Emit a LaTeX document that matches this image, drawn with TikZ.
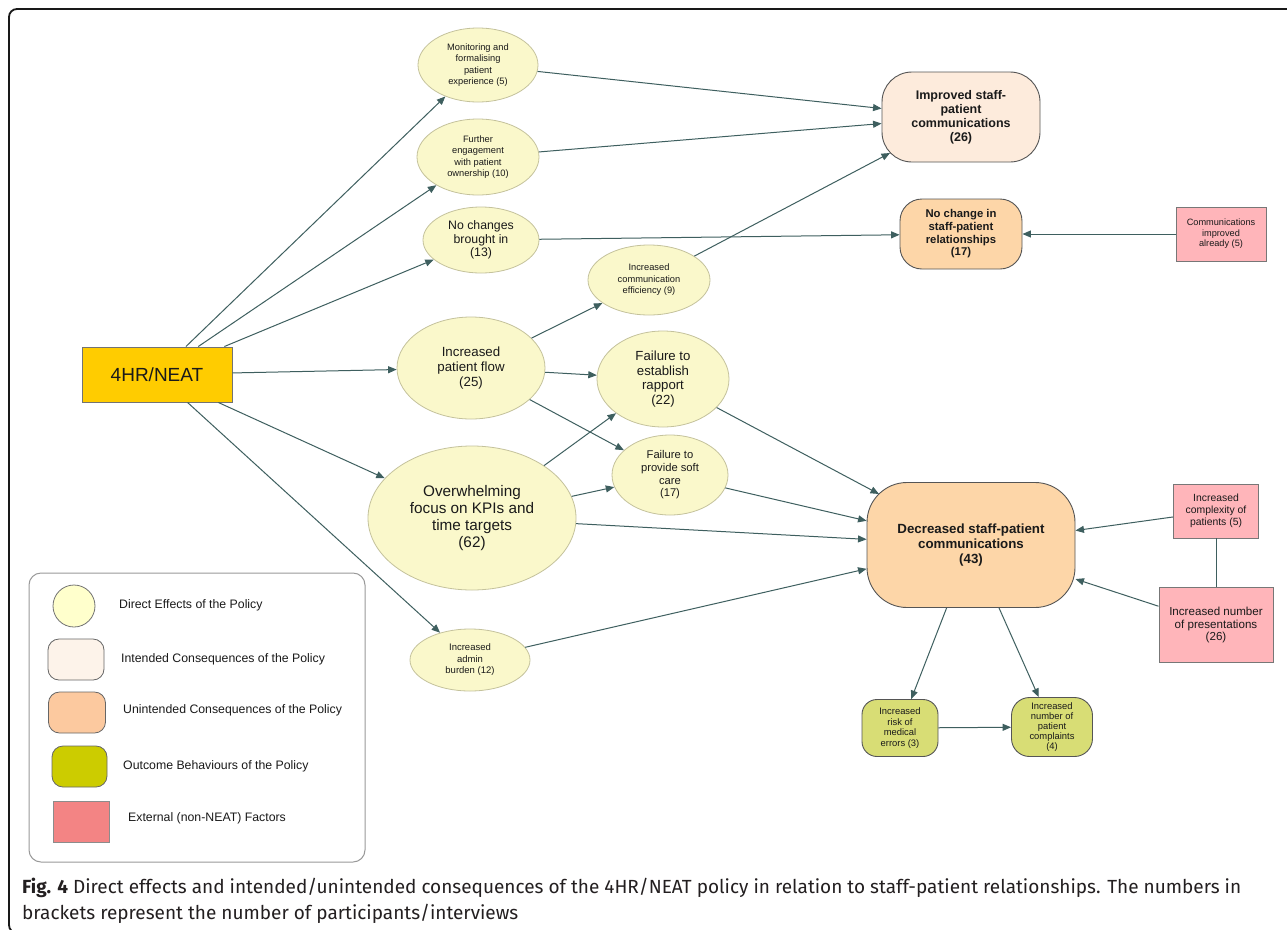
\documentclass[tikz,border=0pt]{standalone}
\usepackage{fontspec}
\setmainfont{Liberation Sans}
\newfontfamily\capfont[FakeStretch=1.0]{Fira Sans}
\usetikzlibrary{shapes.geometric,arrows.meta}
\definecolor{edgec}{HTML}{3E5F5F}
\definecolor{txt}{HTML}{1A1A1A}
\definecolor{efff}{HTML}{FAF8CB}
\definecolor{effb}{HTML}{C4C29C}
\definecolor{impf}{HTML}{FDEBDC}
\definecolor{unf}{HTML}{FDD6A8}
\definecolor{extf}{HTML}{FFB5BA}
\definecolor{outf}{HTML}{D8DD75}
\definecolor{neatf}{HTML}{FFCC00}
\definecolor{darkb}{HTML}{555555}
\definecolor{lgcirc}{HTML}{FFFFCC}
\definecolor{lgint}{HTML}{FDF3EA}
\definecolor{lgun}{HTML}{FCC99F}
\definecolor{lgout}{HTML}{CCCC00}
\definecolor{lgext}{HTML}{F38484}
\definecolor{capc}{HTML}{231F20}
\begin{document}
\begin{tikzpicture}[x=1pt,y=-1pt,
  fs/.style 2 args={font=\fontsize{#1}{#2}\selectfont},
  fsb/.style 2 args={font=\bfseries\fontsize{#1}{#2}\selectfont},
  eff/.style={ellipse, draw=effb, fill=efff, line width=0.8pt, inner sep=0pt, align=center, text=txt},
  conbox/.style={rectangle, draw=darkb, line width=0.9pt, inner sep=0pt, align=center, text=txt},
  extbox/.style={rectangle, draw=darkb!80, fill=extf, line width=0.9pt, inner sep=0pt, align=center, text=txt},
  lgtext/.style={anchor=west, inner sep=0pt, fs={12.3}{14}, text=txt},
  arr/.style={draw=edgec, line width=1pt, -{Triangle[length=8.5pt,width=7pt]}},
  plain/.style={draw=edgec, line width=1pt}
]
\useasboundingbox (0,0) rectangle (1287,929);
\fill[white] (0,0) rectangle (1287,929);
% frame
\draw[line width=1.8pt, color=black!90, rounded corners=8pt] (1295,9) -- (9,9) -- (9,933) -- (30,933);

% source
\node[rectangle, draw=black!55, fill=neatf, line width=1pt, minimum width=150pt, minimum height=55pt, fs={19}{22}, text=txt] (neat) at (157,374.5) {4HR/NEAT};

% direct effects
\node[eff, minimum width=120pt, minimum height=74pt, fs={9.3}{11.6}] (mon) at (478,65) {Monitoring and\\formalising\\patient\\experience (5)};
\node[eff, minimum width=122pt, minimum height=76pt, fs={9.3}{11.6}] (fur) at (478,157) {Further\\engagement\\with patient\\ownership (10)};
\node[eff, minimum width=116pt, minimum height=66pt, fs={12.3}{13.6}] (noc) at (481,240) {No changes\\brought in\\(13)};
\node[eff, minimum width=122pt, minimum height=70pt, fs={9.3}{11.5}] (cef) at (649,280) {Increased\\communication\\efficiency (9)};
\node[eff, minimum width=148pt, minimum height=102pt, fs={13.3}{15}] (pf) at (471,368) {Increased\\patient flow\\(25)};
\node[eff, minimum width=132pt, minimum height=96pt, fs={13.2}{14.7}] (rap) at (663,379) {Failure to\\establish\\rapport\\(22)};
\node[eff, minimum width=116pt, minimum height=80pt, fs={11.2}{12.7}] (soft) at (670,475) {Failure to\\provide soft\\care\\(17)};
\node[eff, minimum width=208pt, minimum height=144pt, fs={15.3}{16.7}] (ovw) at (472,518) {Overwhelming\\focus on KPIs and\\time targets\\(62)};
\node[eff, minimum width=120pt, minimum height=62pt, fs={9.5}{11.5}] (adm) at (470,660) {Increased\\admin\\burden (12)};

% consequences
\node[conbox, fill=impf, rounded corners=30pt, minimum width=158pt, minimum height=90pt, fsb={12.5}{14}] (imp) at (961,117) {Improved staff-\\patient\\communications\\(26)};
\node[conbox, fill=unf, rounded corners=22pt, minimum width=122pt, minimum height=70pt, fsb={11.3}{12.7}] (ncr) at (961,234) {No change in\\staff-patient\\relationships\\(17)};
\node[conbox, fill=unf, rounded corners=40pt, minimum width=208pt, minimum height=125pt, fsb={13.3}{14.7}] (dec) at (971,545) {Decreased staff-patient\\communications\\(43)};

% external
\node[extbox, minimum width=90pt, minimum height=54pt, fs={9.2}{10.5}] (cia) at (1221,234) {Communications\\improved\\already (5)};
\node[extbox, minimum width=85pt, minimum height=54pt, fs={10.4}{11.7}] (cpx) at (1216,511) {Increased\\complexity of\\patients (5)};
\node[extbox, minimum width=114pt, minimum height=75pt, fs={11.6}{12.7}] (pres) at (1216,625) {Increased number\\of presentations\\(26)};

% outcomes
\node[conbox, fill=outf, rounded corners=15pt, minimum width=76pt, minimum height=57pt, fs={9.4}{10.4}] (risk) at (900,728) {Increased\\risk of\\medical\\errors (3)};
\node[conbox, fill=outf, rounded corners=18pt, minimum width=81pt, minimum height=59pt, fs={9.4}{10.2}] (cmp) at (1052,727) {Increased\\number of\\patient\\complaints\\(4)};

% named end points on rounded corners
\coordinate (impBL) at (890,153);
\coordinate (decTL) at (879,494);

% connectors
\draw[arr] (neat) -- (mon);
\draw[arr] (neat) -- (fur);
\draw[arr] (neat) -- (noc);
\draw[arr] (neat) -- (pf);
\draw[arr] (neat) -- (ovw);
\draw[arr] (neat) -- (adm);
\draw[arr] (mon) -- (imp);
\draw[arr] (fur) -- (imp);
\draw[arr] (cef) -- (impBL);
\draw[arr] (noc) -- (ncr);
\draw[arr] (cia) -- (ncr);
\draw[arr] (pf) -- (cef);
\draw[arr] (pf) -- (rap);
\draw[arr] (pf) -- (soft);
\draw[arr] (ovw) -- (rap);
\draw[arr] (ovw) -- (soft);
\draw[arr] (ovw) -- (dec);
\draw[arr] (rap) -- (decTL);
\draw[arr] (soft) -- (dec);
\draw[arr] (adm) -- (dec);
\draw[arr] (cpx) -- (dec);
\draw[arr] (pres) -- (dec);
\draw[plain] (cpx) -- (pres);
\draw[arr] (dec) -- (risk);
\draw[arr] (dec) -- (cmp);
\draw[arr] (risk) -- (cmp);

% legend
\node[rectangle, draw=black!40, line width=1pt, rounded corners=12pt, minimum width=336pt, minimum height=289pt] (legend) at (197,717.5) {};
\node[circle, draw=black!55, fill=lgcirc, line width=0.8pt, minimum size=42pt, inner sep=0pt] (lg1) at (74,606) {};
\node[rectangle, rounded corners=11pt, draw=black!60, fill=lgint, line width=0.8pt, minimum width=56pt, minimum height=41pt] (lg2) at (76,659.5) {};
\node[rectangle, rounded corners=11pt, draw=black!60, fill=lgun, line width=0.8pt, minimum width=57pt, minimum height=41pt] (lg3) at (77,712.5) {};
\node[rectangle, rounded corners=11pt, draw=black!60, fill=lgout, line width=0.8pt, minimum width=55pt, minimum height=41pt] (lg4) at (79.5,766.5) {};
\node[rectangle, draw=black!45, fill=lgext, line width=0.8pt, minimum width=56pt, minimum height=41pt] (lg5) at (81,821.5) {};
\node[lgtext] (lt1) at (119,605) {Direct Effects of the Policy};
\node[lgtext] (lt2) at (121,659) {Intended Consequences of the Policy};
\node[lgtext] (lt3) at (123,710) {Unintended Consequences of the Policy};
\node[lgtext] (lt4) at (123,766) {Outcome Behaviours of the Policy};
\node[lgtext] (lt5) at (128,818) {External (non-NEAT) Factors};

% caption
\node[anchor=base west, inner sep=0pt, text=capc, font=\capfont\fontsize{19}{22}\selectfont] (cap1) at (22,893) {\textbf{Fig. 4} Direct effects and intended/unintended consequences of the 4HR/NEAT policy in relation to staff-patient relationships. The numbers in};
\node[anchor=base west, inner sep=0pt, text=capc, font=\capfont\fontsize{19}{22}\selectfont] (cap2) at (22,919) {brackets represent the number of participants/interviews};
\end{tikzpicture}
\end{document}
